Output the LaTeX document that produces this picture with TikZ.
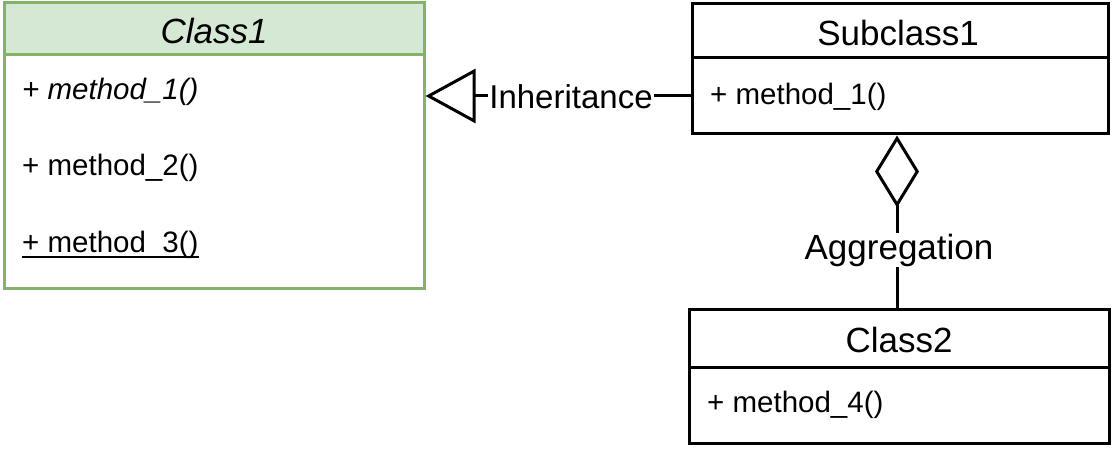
\documentclass[tikz,border=0pt]{standalone}
\usepackage{fontspec}
\setmainfont{Liberation Sans}
\usetikzlibrary{arrows.meta}
\definecolor{gborder}{HTML}{82B366}
\definecolor{gfill}{HTML}{D5E8D4}
\tikzset{
  box/.style={draw=black, line width=3pt, fill=white, inner sep=0pt},
  gbox/.style={draw=gborder, line width=3pt, inner sep=0pt},
  hdrtext/.style={font=\fontsize{35}{42}\selectfont, inner sep=0pt},
  mtext/.style={font=\fontsize{29.5}{35}\selectfont, inner sep=0pt, anchor=west},
  lbl/.style={font=\fontsize{33}{40}\selectfont, fill=white, inner sep=1pt},
  conn/.style={line width=3pt, draw=black},
}
\begin{document}
\begin{tikzpicture}[x=1pt,y=-1pt]
\useasboundingbox (0,0) rectangle (1116,457);
% Class1
\node[gbox, fill=gfill, minimum width=420pt, minimum height=52pt] (c1h) at (214,29) {};
\node[gbox, fill=white, minimum width=420pt, minimum height=233pt] (c1b) at (214,171.5) {};
\node[hdrtext] (c1t) at (214,31) {\itshape Class1};
\node[mtext] (c1m1) at (22,92) {\itshape + method\_1()};
\node[mtext] (c1m2) at (22,168) {+ method\_2()};
\node[mtext] (c1m3) at (22,245) {+ method\_3()};
\draw[line width=1.6pt] ([yshift=-4.5pt]c1m3.base west) -- ([yshift=-4.5pt]c1m3.base east);
% Subclass1
\node[box, minimum width=416pt, minimum height=54pt] (s1h) at (900,31) {};
\node[box, minimum width=416pt, minimum height=76pt] (s1b) at (900,96) {};
\node[hdrtext] (s1t) at (898,33) {Subclass1};
\node[mtext] (s1m) at (710,97) {+ method\_1()};
% Class2
\node[box, minimum width=420pt, minimum height=58pt] (c2h) at (899,338) {};
\node[box, minimum width=420pt, minimum height=76pt] (c2b) at (899,405) {};
\node[hdrtext] (c2t) at (899,340) {Class2};
\node[mtext] (c2m) at (707,405) {+ method\_4()};
% Inheritance
\coordinate (istart) at (s1b.west |- 0,96);
\coordinate (iend) at (c1b.east |- 0,96);
\draw[conn, -{Triangle[open, length=50pt, width=54pt]}] (istart) -- (iend);
\node[lbl] (ilab) at (571,97) {Inheritance};
% Aggregation
\draw[conn, -{Diamond[open, length=72pt, width=44pt]}] (c2h.north -| 897,0) -- (s1b.south -| 897,0);
\node[lbl, font=\fontsize{35}{42}\selectfont] (alab) at (899,250) {Aggregation};
\end{tikzpicture}
\end{document}
